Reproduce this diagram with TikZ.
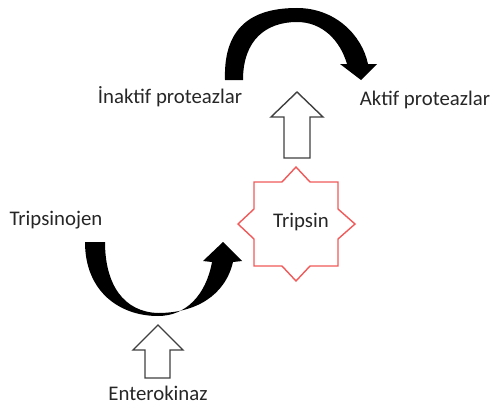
\documentclass[tikz,border=0pt]{standalone}
\usepackage{fontspec}
\setmainfont{Carlito}
\definecolor{starred}{HTML}{F05A5A}
\definecolor{outlinegray}{HTML}{404040}
\tikzset{
  lbl/.style={font=\fontsize{20.8}{24}\selectfont, text=black!85, inner sep=0pt},
  blockarrow/.style={draw=outlinegray, line width=1.4pt, fill=white, line join=miter},
  curvearrow/.style={fill=black, draw=none},
  starshape/.style={draw=starred, line width=1.4pt, fill=white, line join=miter}
}
\begin{document}
\begin{tikzpicture}[x=1pt,y=-1pt]
\useasboundingbox (0,0) rectangle (492,404);
% top curved arrow
\path[curvearrow] (225,80) .. controls (223,22) and (258,8) .. (297,8)
  .. controls (335,8) and (362,35) .. (368,64) -- (377,64) -- (361,80) -- (340,64) -- (347,64)
  .. controls (340,40) and (322,22) .. (297,22)
  .. controls (266,22) and (243,40) .. (243,80) -- cycle;
% bottom curved arrow
\path[curvearrow] (85,242) .. controls (85,292) and (120,316) .. (158,316)
  .. controls (186,316) and (206,295) .. (212,262) -- (203,261) -- (223,242) -- (242,261) -- (233,262)
  .. controls (225,296) and (195,313) .. (158,313)
  .. controls (124,312) and (105,285) .. (105,242) -- cycle;
% upper block arrow
\draw[blockarrow] (297,92) -- (323,117) -- (310,117) -- (310,158) -- (284,158) -- (284,117) -- (271,117) -- cycle;
% lower block arrow
\draw[blockarrow] (158,325) -- (183,350) -- (170,350) -- (170,378) -- (145,378) -- (145,350) -- (133,350) -- cycle;
% star
\begin{scope}[shift={(296,224)}]
\draw[starshape] (0,-57) -- (14,-42) -- (42,-42) -- (42,-15) -- (59,0) -- (42,15) -- (42,42) -- (14,42) -- (0,57)
  -- (-14,42) -- (-42,42) -- (-42,15) -- (-58,0) -- (-42,-15) -- (-42,-42) -- (-14,-42) -- cycle;
\end{scope}
\node[lbl] (tripsin) at (301,222) {Tripsin};
\node[lbl] (inaktif) at (170,97) {İnaktif proteazlar};
\node[lbl] (aktif) at (425,100) {Aktif proteazlar};
\node[lbl] (tripsinojen) at (56,220) {Tripsinojen};
\node[lbl] (enterokinaz) at (158,393) {Enterokinaz};
\end{tikzpicture}
\end{document}
